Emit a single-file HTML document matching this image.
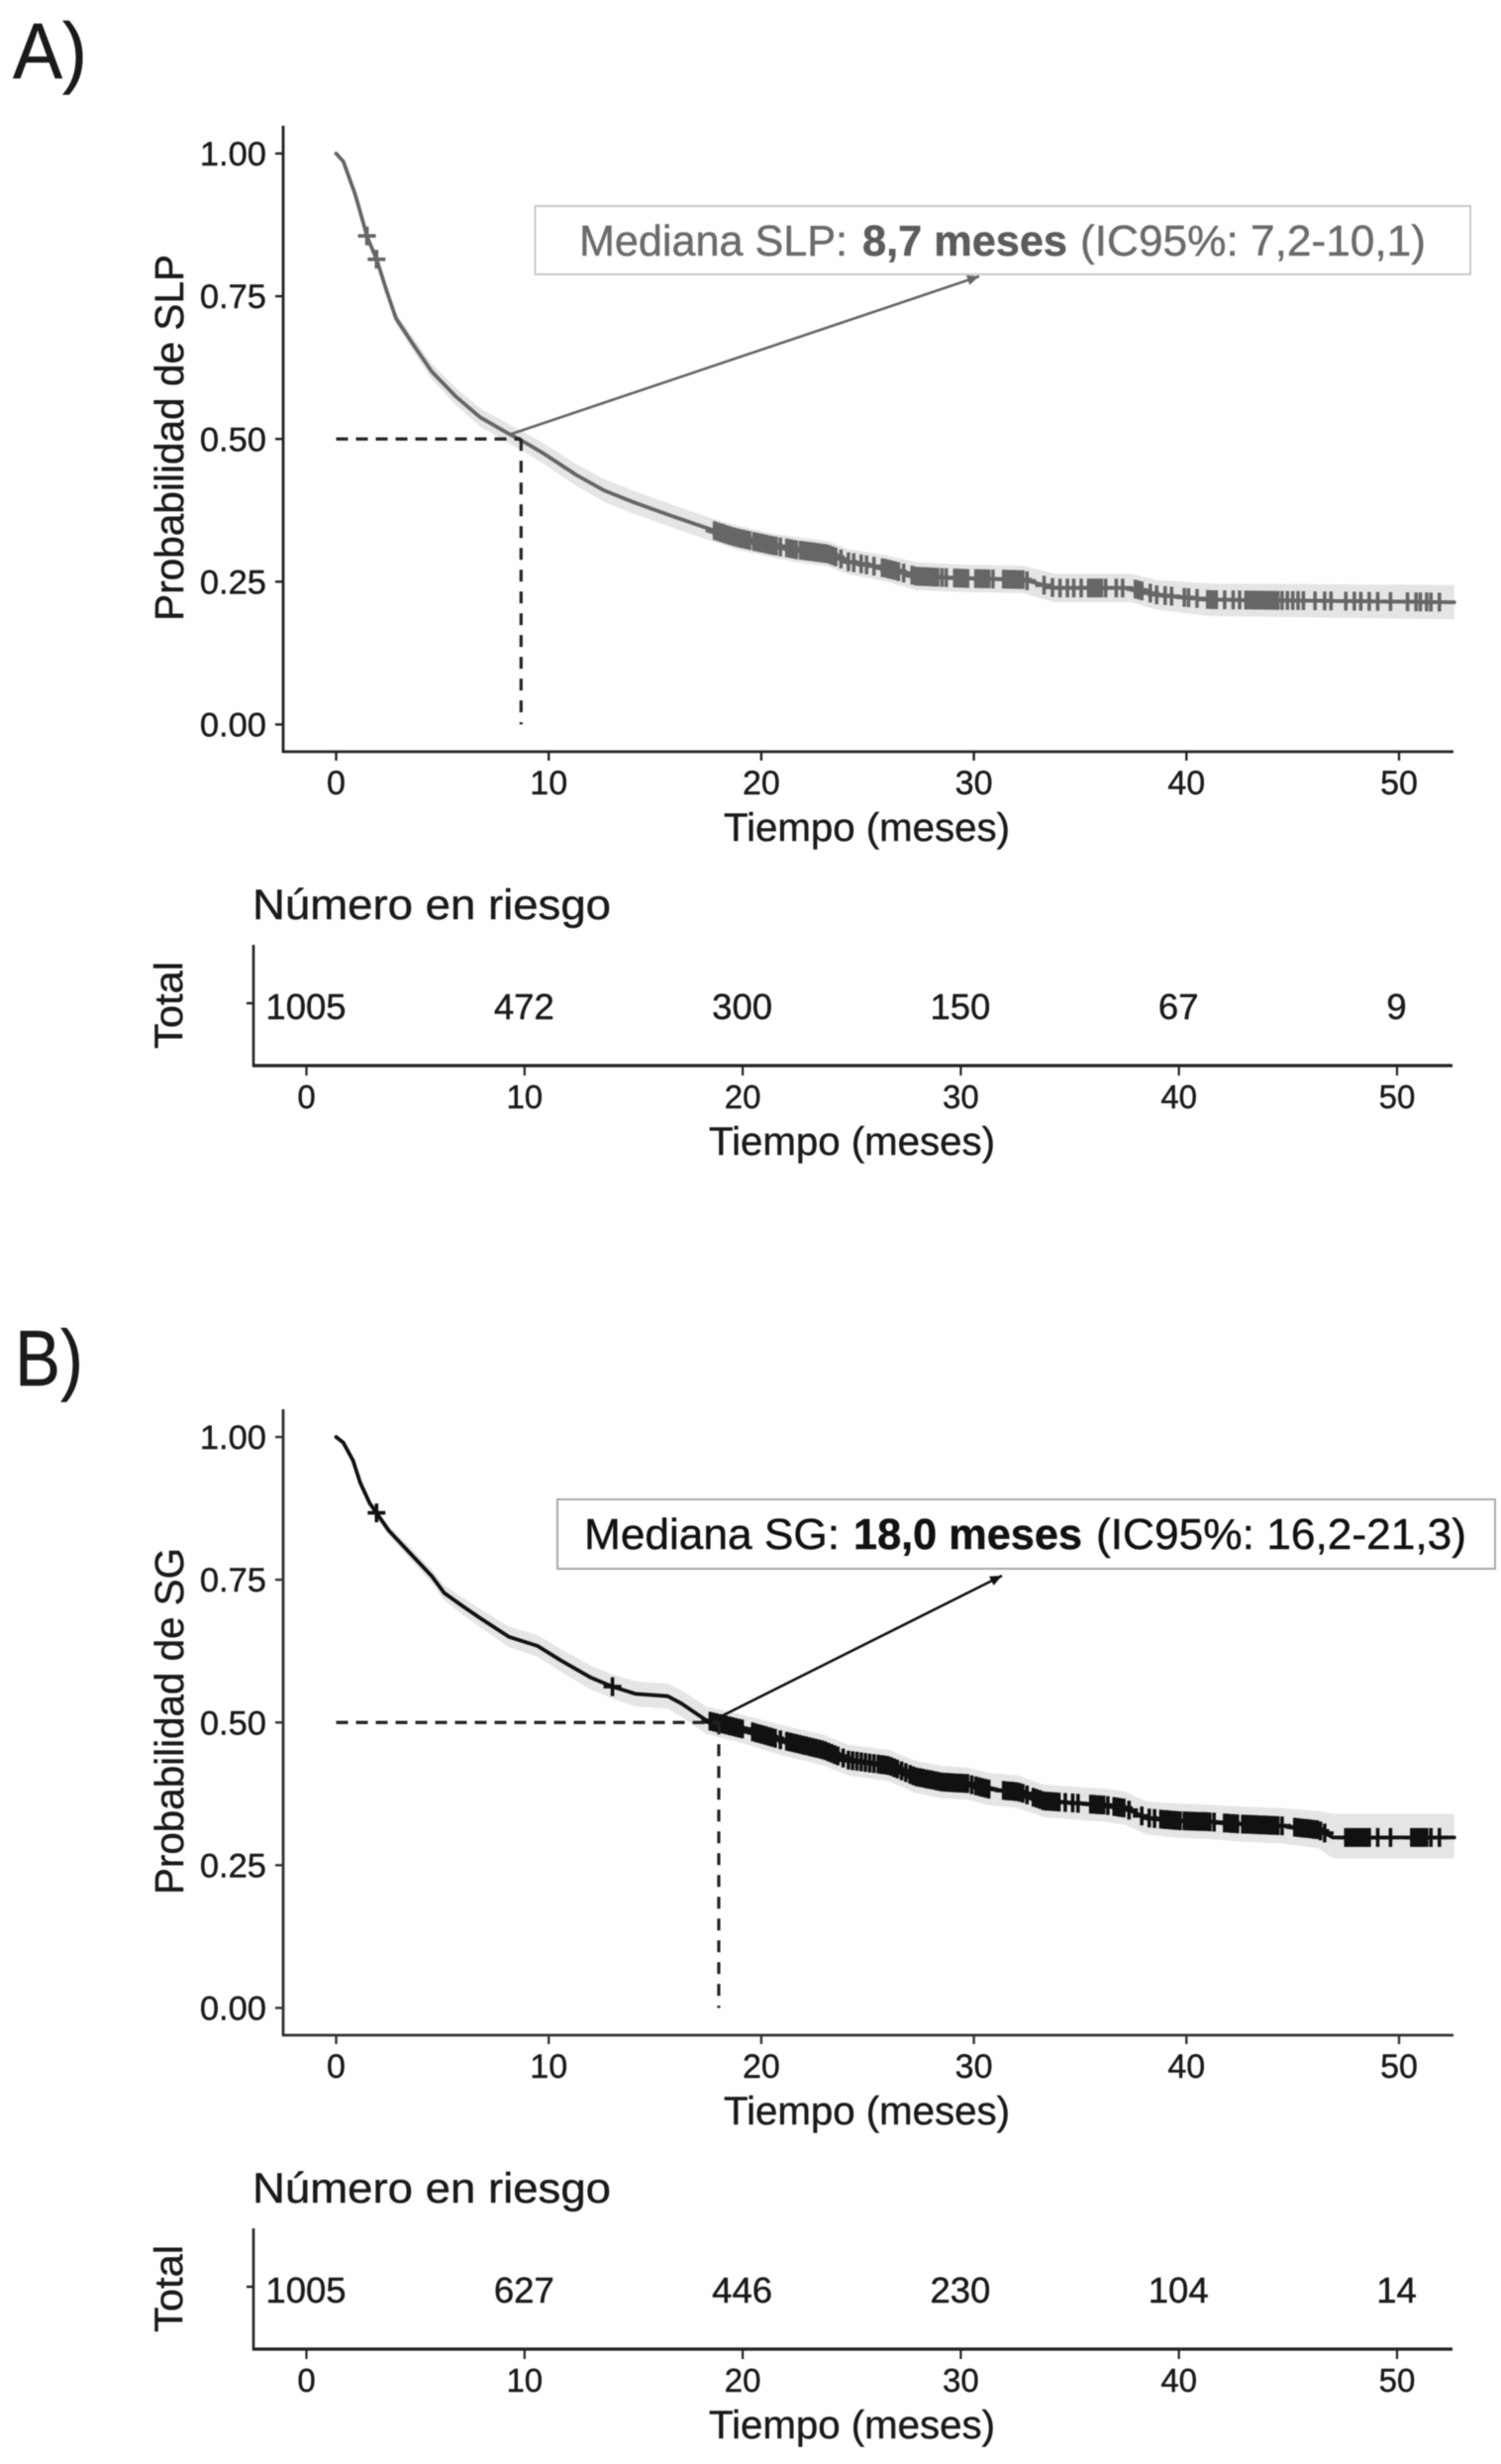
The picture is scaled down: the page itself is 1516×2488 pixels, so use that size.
<!DOCTYPE html>
<html lang="es">
<head>
<meta charset="utf-8">
<title>Curvas de Kaplan-Meier: SLP y SG</title>
<style>
  html, body { margin: 0; padding: 0; background: #fff; }
  svg { display: block; font-family: "Liberation Sans", Arial, sans-serif; filter: blur(0.5px); }
  text { fill: #1a1a1a; stroke: #1a1a1a; stroke-width: 0.45px; }
</style>
</head>
<body>
<svg id="figure" xmlns="http://www.w3.org/2000/svg" width="1516" height="2488" viewBox="0 0 1516 2488">
  <rect x="0" y="0" width="1516" height="2488" fill="#ffffff"/>

  <!-- Panel A static text -->
  <text x="13" y="79" font-size="80" textLength="75" lengthAdjust="spacingAndGlyphs">A)</text>
  <text transform="translate(185,627) rotate(-90)" font-size="41" textLength="370" lengthAdjust="spacingAndGlyphs">Probabilidad de SLP</text>
  <text x="731" y="849" font-size="40" textLength="289" lengthAdjust="spacingAndGlyphs">Tiempo (meses)</text>
  <text x="255" y="928" font-size="43" textLength="362" lengthAdjust="spacingAndGlyphs">Número en riesgo</text>
  <text transform="translate(184,1059) rotate(-90)" font-size="40" textLength="88" lengthAdjust="spacingAndGlyphs">Total</text>
  <text x="716" y="1166" font-size="40" textLength="289" lengthAdjust="spacingAndGlyphs">Tiempo (meses)</text>

  <!-- Panel B static text -->
  <text x="15" y="1399" font-size="80" textLength="69" lengthAdjust="spacingAndGlyphs">B)</text>
  <text transform="translate(185,1913) rotate(-90)" font-size="41" textLength="350" lengthAdjust="spacingAndGlyphs">Probabilidad de SG</text>
  <text x="731" y="2145" font-size="40" textLength="289" lengthAdjust="spacingAndGlyphs">Tiempo (meses)</text>
  <text x="255" y="2224" font-size="43" textLength="362" lengthAdjust="spacingAndGlyphs">Número en riesgo</text>
  <text transform="translate(184,2355) rotate(-90)" font-size="40" textLength="88" lengthAdjust="spacingAndGlyphs">Total</text>
  <text x="716" y="2462" font-size="40" textLength="289" lengthAdjust="spacingAndGlyphs">Tiempo (meses)</text>

  <g id="plot-a"></g>
  <g id="plot-b"></g>

  <!-- Annotation A -->
  <g>
    <rect x="540.5" y="208" width="944.5" height="69" fill="#ffffff" stroke="#c9c9c9" stroke-width="2"/>
    <text x="585" y="258" font-size="44" style="fill:#6b6b6b;stroke:#6b6b6b" textLength="271" lengthAdjust="spacingAndGlyphs">Mediana SLP:</text>
    <text x="871" y="258" font-size="44" font-weight="bold" style="fill:#5c5c5c;stroke:#5c5c5c" textLength="207" lengthAdjust="spacingAndGlyphs">8,7 meses</text>
    <text x="1091" y="258" font-size="44" style="fill:#6b6b6b;stroke:#6b6b6b" textLength="349" lengthAdjust="spacingAndGlyphs">(IC95%: 7,2-10,1)</text>
  </g>

  <!-- Annotation B -->
  <g>
    <rect x="563" y="1514" width="947" height="70" fill="#ffffff" stroke="#a8a8a8" stroke-width="2"/>
    <text x="590" y="1564" font-size="44" style="fill:#111111;stroke:#111111" textLength="258" lengthAdjust="spacingAndGlyphs">Mediana SG:</text>
    <text x="862" y="1564" font-size="44" font-weight="bold" style="fill:#111111;stroke:#111111" textLength="231" lengthAdjust="spacingAndGlyphs">18,0 meses</text>
    <text x="1107" y="1564" font-size="44" style="fill:#111111;stroke:#111111" textLength="374" lengthAdjust="spacingAndGlyphs">(IC95%: 16,2-21,3)</text>
  </g>
</svg>

<script>
// ---- Axis tick data ----
const timeTicks = [0, 10, 20, 30, 40, 50];
const survivalTicks = [0, 0.25, 0.5, 0.75, 1];
const survivalTickLabels = ["0.00", "0.25", "0.50", "0.75", "1.00"];

// ---- Panel A: SLP ----
const slpTimes = [0,.34,.9,1.47,1.92,2.37,2.82,3.6,4.5,5.64,6.77,8.13,8.69,9.7,11.3,12.6,14,15.8,17.83,18.76,20.45,21.66,23.1,24.1,25.8,27.3,29.4,32.3,33.8,37.4,38.6,41.1,52.6];
const slpSurvival = [1,.986,.928,.853,.813,.76,.711,.667,.618,.574,.538,.509,.498,.476,.437,.41,.389,.365,.339,.328,.314,.306,.299,.285,.274,.2595,.256,.2537,.239,.239,.227,.2186,.214];
const slpUpper = [1,.988,.932,.859,.82,.768,.72,.679,.632,.589,.554,.526,.515,.494,.456,.43,.409,.385,.359,.349,.335,.328,.321,.307,.297,.284,.28,.278,.264,.264,.253,.247,.244];
const slpLower = [1,.984,.924,.847,.806,.752,.702,.655,.604,.559,.522,.492,.481,.458,.418,.39,.369,.345,.319,.307,.293,.284,.277,.263,.251,.235,.232,.23,.214,.214,.201,.19,.184];
const slpCensored = [1.45,1.9,17.8,17.95,18.1,18.25,18.4,18.55,18.7,18.85,19,19.15,19.3,19.45,19.65,19.8,19.95,20.1,20.25,20.4,20.55,20.7,20.9,21.2,21.35,21.5,21.65,21.85,22,22.15,22.3,22.45,22.6,22.75,22.9,23.05,23.2,23.35,23.5,23.75,24.1,24.35,24.7,24.95,25.3,25.7,25.85,26,26.15,26.3,26.45,26.7,27.1,27.25,27.4,27.55,27.7,27.85,28,28.15,28.3,28.5,28.7,29.1,29.25,29.4,29.55,29.7,30.1,30.25,30.4,30.55,30.7,30.9,31.4,31.55,31.7,31.85,32,32.15,32.3,32.5,33.3,33.7,34.05,34.4,34.7,35.05,35.4,35.55,35.7,35.85,36,36.2,36.7,37,37.6,37.75,37.9,38.3,38.6,39,39.3,39.9,40.1,40.5,41,41.15,41.3,41.4,41.8,42.2,42.5,42.8,42.95,43.1,43.25,43.4,43.55,43.7,43.85,44,44.15,44.3,44.5,44.75,45,45.25,45.5,46.05,46.5,46.8,47.5,47.9,48.2,48.6,49,49.6,50.4,50.8,51,51.3,51.5,51.9];
const slpRisk = [1005, 472, 300, 150, 67, 9];
const slpMedian = 8.7;

// ---- Panel B: SG ----
const sgTimes = [0,.34,.79,1.13,1.58,1.92,2.48,3.39,4.51,5.08,5.98,6.77,8.13,9.48,10.6,11.96,12.98,14.1,15.6,16.25,17.4,18.03,19.2,20.9,22.9,24.1,26,27.25,28.5,29.7,30.65,32.1,33.3,36.2,37.1,38.1,39.6,41.1,42.3,44.5,46.2,46.9,52.6];
const sgSurvival = [1,.99,.959,.92,.884,.866,.836,.8,.756,.727,.703,.683,.65,.634,.608,.579,.563,.55,.546,.533,.504,.4985,.4877,.4697,.452,.434,.4246,.405,.3957,.393,.3835,.3785,.3624,.3552,.35,.333,.328,.326,.3226,.319,.312,.2986,.2986];
const sgUpper = [1,.992,.963,.925,.89,.873,.844,.81,.768,.74,.718,.699,.668,.653,.628,.6,.584,.572,.568,.556,.528,.523,.513,.496,.479,.461,.452,.433,.424,.421,.412,.407,.391,.384,.379,.362,.358,.356,.353,.35,.345,.34,.34];
const sgLower = [1,.988,.955,.915,.878,.859,.828,.79,.744,.714,.688,.667,.632,.615,.588,.558,.542,.528,.524,.51,.48,.474,.463,.443,.425,.407,.397,.377,.367,.365,.355,.35,.334,.326,.321,.304,.298,.296,.292,.288,.28,.262,.262];
const sgCensored = [1.9,13,17.6,17.75,17.9,18.05,18.2,18.35,18.5,18.65,18.8,18.95,19.1,19.6,19.75,19.9,20.05,20.2,20.35,20.5,20.65,20.9,21.2,21.35,21.5,21.65,21.8,21.95,22.1,22.25,22.4,22.55,22.7,22.85,23,23.15,23.3,23.45,23.6,23.85,24.1,24.3,24.5,24.7,24.9,25.1,25.3,25.5,25.65,25.8,25.95,26.1,26.25,26.4,26.6,26.8,27,27.15,27.3,27.45,27.6,27.75,27.9,28.05,28.2,28.35,28.5,28.65,28.8,28.95,29.1,29.25,29.4,29.55,29.7,29.9,30.1,30.25,30.4,30.55,30.7,31.4,31.55,31.7,31.85,32,32.15,32.3,32.5,32.8,32.95,33.1,33.25,33.4,33.55,33.7,33.85,34,34.3,34.65,34.9,35.5,35.65,35.8,35.95,36.1,36.3,36.6,36.75,36.9,37.05,37.3,37.9,38.25,38.5,38.8,38.95,39.1,39.25,39.4,39.55,39.7,39.9,40.05,40.2,40.35,40.5,40.65,40.8,40.95,41.1,41.3,41.8,41.95,42.1,42.25,42.4,42.65,42.8,42.95,43.1,43.25,43.4,43.55,43.7,43.85,44,44.15,44.3,44.5,45.1,45.25,45.4,45.55,45.7,45.85,46,46.15,46.3,46.5,47.5,47.65,47.8,47.95,48.1,48.25,48.4,48.5,48.6,49,49.6,50.6,50.75,50.9,51.05,51.15,51.3,51.5,51.9];
const sgRisk = [1005, 627, 446, 230, 104, 14];
const sgMedian = 18;

const SVG_NS = "http://www.w3.org/2000/svg";

function add(parent, tag, attrs, content) {
  const node = document.createElementNS(SVG_NS, tag);
  for (const key in attrs) node.setAttribute(key, attrs[key]);
  if (content !== undefined) node.textContent = content;
  parent.appendChild(node);
  return node;
}

function interpolate(times, values, t) {
  for (let i = 1; i < times.length; i++) {
    if (t <= times[i]) {
      const f = (t - times[i - 1]) / (times[i] - times[i - 1]);
      return values[i - 1] + f * (values[i] - values[i - 1]);
    }
  }
  return values[values.length - 1];
}

function drawPanel(group, prefix, dy, times, survival, upper, lower, censored, risk, median, lineColor, arrowEnd, axisColor) {
  // axis functions
  const xScale = t => 339.5 + 21.47 * t;
  const yScale = v => dy + 731.5 - 576.5 * v;
  const riskX = t => 309.5 + 22.03 * t;

  // confidence band
  let bandPath = times.map((t, i) => (i ? "L" : "M") + xScale(t).toFixed(1) + " " + yScale(upper[i]).toFixed(1)).join(" ");
  for (let i = times.length - 1; i >= 0; i--) {
    bandPath += " L" + xScale(times[i]).toFixed(1) + " " + yScale(lower[i]).toFixed(1);
  }
  const band = add(group, "path", { d: bandPath + " Z", fill: "#e5e5e5", stroke: "none" });
  
  

  // survival curve
  const curvePath = times.map((t, i) => (i ? "L" : "M") + xScale(t).toFixed(1) + " " + yScale(survival[i]).toFixed(1)).join(" ");
  const curve = add(group, "path", { d: curvePath, fill: "none", stroke: lineColor, "stroke-width": 3.8, "stroke-linejoin": "round", "stroke-linecap": "round" });
  
  

  // censor marks
  const marks = add(group, "g", { stroke: lineColor, "stroke-width": 3.6, fill: "none" });
  
  
  censored.forEach(t => {
    const cx = xScale(t);
    const cy = yScale(interpolate(times, survival, t));
    const mark = add(marks, "path", { d: "M" + (cx - 9).toFixed(1) + " " + cy.toFixed(1) + " H" + (cx + 9).toFixed(1) + " M" + cx.toFixed(1) + " " + (cy - 9.5).toFixed(1) + " V" + (cy + 9.5).toFixed(1) });
    
    
  });

  // median guide lines
  const hGuide = add(group, "line", { x1: xScale(0), y1: yScale(0.5), x2: xScale(median), y2: yScale(0.5), stroke: "#222", "stroke-width": 3.2, "stroke-dasharray": "12 8" });
  
  
  const vGuide = add(group, "line", { x1: xScale(median), y1: yScale(0.5), x2: xScale(median), y2: yScale(0), stroke: "#222", "stroke-width": 3.2, "stroke-dasharray": "12 10" });
  
  

  // arrow to annotation
  const ax = xScale(median) - 10 + (median > 10 ? 10 : 0);
  const ay = yScale(0.5) - 5;
  const ex = arrowEnd[0];
  const ey = dy + arrowEnd[1];
  const arrowLine = add(group, "line", { x1: ax, y1: ay, x2: ex, y2: ey, stroke: lineColor, "stroke-width": 2.6 });
  
  
  const ang = Math.atan2(ey - ay, ex - ax);
  const hx1 = ex - 13 * Math.cos(ang - 0.4), hy1 = ey - 13 * Math.sin(ang - 0.4);
  const hx2 = ex - 13 * Math.cos(ang + 0.4), hy2 = ey - 13 * Math.sin(ang + 0.4);
  const arrowHead = add(group, "polygon", { points: ex + "," + ey + " " + hx1.toFixed(1) + "," + hy1.toFixed(1) + " " + hx2.toFixed(1) + "," + hy2.toFixed(1), fill: lineColor });
  
  

  // main axes
  const yAxis = add(group, "line", { x1: 286, y1: dy + 127, x2: 286, y2: dy + 760, stroke: axisColor, "stroke-width": 2.8 });
  
  
  const xAxis = add(group, "line", { x1: 285, y1: dy + 759, x2: 1468, y2: dy + 759, stroke: axisColor, "stroke-width": 2.8 });
  
  

  survivalTicks.forEach((v, i) => {
    const tick = add(group, "line", { x1: 278, y1: yScale(v), x2: 286, y2: yScale(v), stroke: axisColor, "stroke-width": 2.4 });
    
    
    const label = add(group, "text", { x: 269, y: yScale(v) + 12, "font-size": 34.5, "text-anchor": "end" }, survivalTickLabels[i]);
    
    
  });

  timeTicks.forEach(t => {
    const tick = add(group, "line", { x1: xScale(t), y1: dy + 759, x2: xScale(t), y2: dy + 768, stroke: axisColor, "stroke-width": 2.4 });
    
    
    const label = add(group, "text", { x: xScale(t), y: dy + 802, "font-size": 34, "text-anchor": "middle" }, String(t));
    
    
  });

  // risk table axes
  const riskYAxis = add(group, "line", { x1: 256, y1: dy + 954, x2: 256, y2: dy + 1077, stroke: "#222", "stroke-width": 2.6 });
  
  
  const riskXAxis = add(group, "line", { x1: 255, y1: dy + 1076, x2: 1467, y2: dy + 1076, stroke: "#222", "stroke-width": 3.2 });
  
  
  const riskRowTick = add(group, "line", { x1: 249, y1: dy + 1013, x2: 256, y2: dy + 1013, stroke: "#222", "stroke-width": 2.4 });
  
  

  timeTicks.forEach((t, i) => {
    const tick = add(group, "line", { x1: riskX(t), y1: dy + 1076, x2: riskX(t), y2: dy + 1086, stroke: "#222", "stroke-width": 2.2 });
    
    
    const label = add(group, "text", { x: riskX(t), y: dy + 1119, "font-size": 33, "text-anchor": "middle" }, String(t));
    
    
    const count = add(group, "text", { x: riskX(t) - 0.5, y: dy + 1029, "font-size": 36.5, "text-anchor": "middle" }, String(risk[i]));
    
    
  });
}

drawPanel(document.getElementById("plot-a"), "panel-a", 0, slpTimes, slpSurvival, slpUpper, slpLower, slpCensored, slpRisk, slpMedian, "#666666", [989, 279], "#222222");
drawPanel(document.getElementById("plot-b"), "panel-b", 1296, sgTimes, sgSurvival, sgUpper, sgLower, sgCensored, sgRisk, sgMedian, "#111111", [1012, 295], "#333333");
</script>
</body>
</html>
